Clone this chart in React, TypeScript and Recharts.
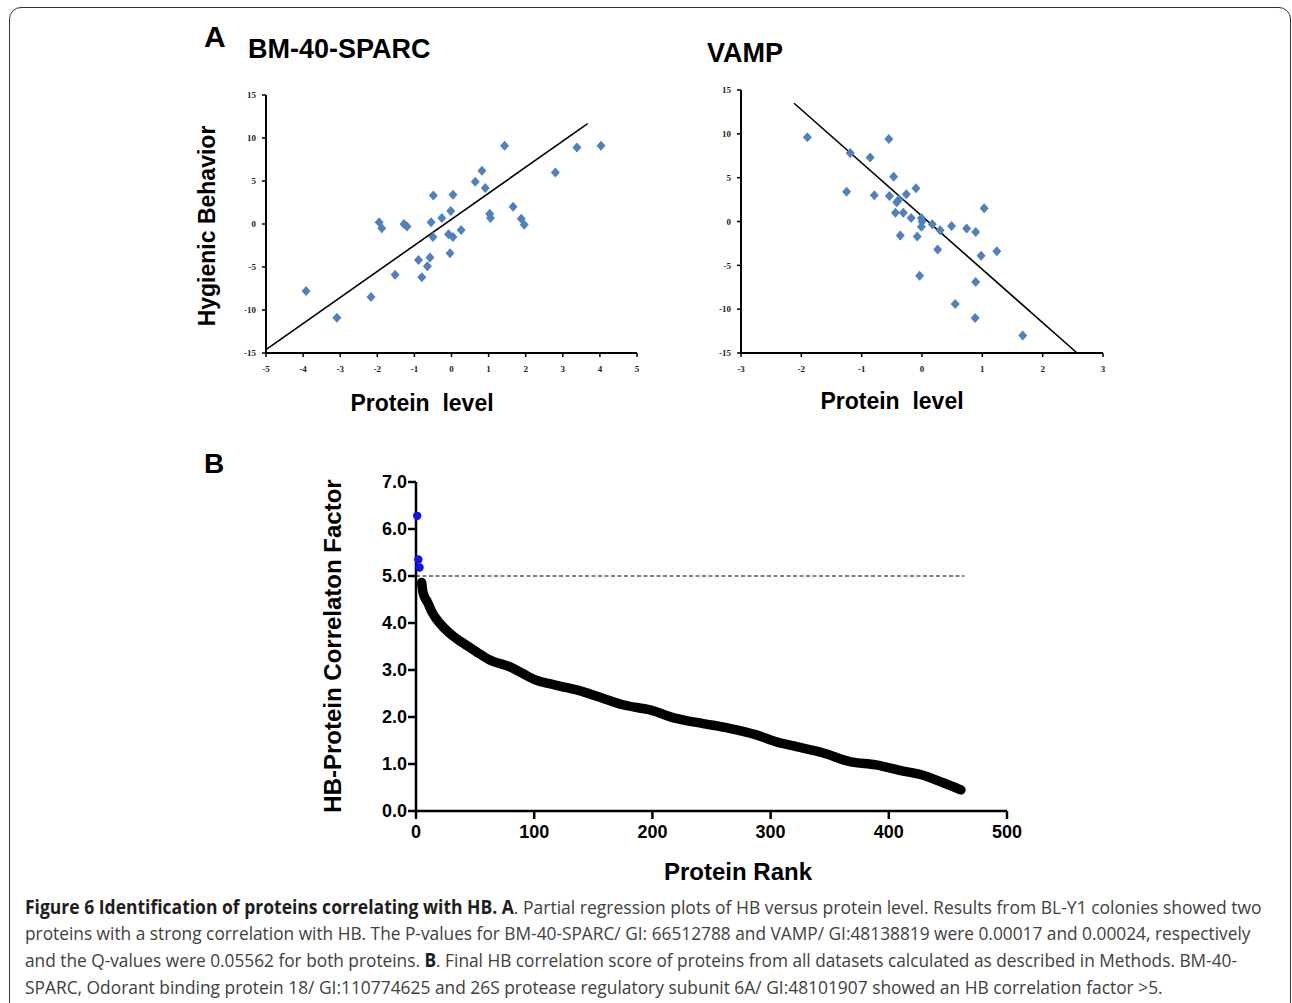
import React, { useLayoutEffect, useRef, useState } from "react";
import {
  ScatterChart,
  Scatter,
  ComposedChart,
  Line,
  XAxis,
  YAxis,
  ReferenceLine,
} from "recharts";

// Panel A, BM-40-SPARC partial regression
const sparcLevel = [
  -3.92, -3.09, -2.17, -1.95, -1.88, -1.52, -1.28, -1.2, -0.89, -0.8, -0.65,
  -0.58, -0.55, -0.49, -0.5, -0.26, -0.08, -0.02, -0.04, 0.04, 0.04, 0.26,
  0.64, 0.82, 0.91, 1.03, 1.05, 1.43, 1.66, 1.88, 1.96, 2.8, 3.38, 4.03,
];
const sparcHB = [
  -7.8, -10.9, -8.5, 0.2, -0.5, -5.9, 0.0, -0.3, -4.2, -6.2, -4.9, -3.9, 0.2,
  3.3, -1.5, 0.7, -1.2, 1.5, -3.4, 3.4, -1.5, -0.7, 4.9, 6.2, 4.2, 1.2, 0.7,
  9.1, 2.0, 0.6, -0.1, 6.0, 8.9, 9.1,
];
const sparcFit = [
  { x: -5, y: -14.6 },
  { x: 3.67, y: 11.67 },
];

// Panel A, VAMP partial regression
const vampLevel = [
  -1.9, -1.25, -1.19, -0.86, -0.79, -0.55, -0.54, -0.47, -0.42, -0.38, -0.44,
  -0.36, -0.31, -0.26, -0.18, -0.1, -0.08, -0.01, 0.0, -0.01, -0.04, 0.17, 0.3,
  0.26, 0.49, 0.55, 0.74, 0.89, 0.89, 0.88, 0.98, 1.03, 1.24, 1.67,
];
const vampHB = [
  9.6, 3.4, 7.8, 7.3, 3.0, 9.4, 2.9, 5.1, 2.2, 2.5, 1.0, -1.6, 1.0, 3.1, 0.4,
  3.8, -1.7, 0.4, 0.0, -0.6, -6.2, -0.3, -1.0, -3.2, -0.5, -9.4, -0.8, -1.2,
  -6.9, -11.0, -3.9, 1.5, -3.4, -13.0,
];
const vampFit = [
  { x: -2.12, y: 13.49 },
  { x: 2.57, y: -15.0 },
];

const hbTicks = [-15, -10, -5, 0, 5, 10, 15];
const sparcTicks = [-5, -4, -3, -2, -1, 0, 1, 2, 3, 4, 5];
const vampTicks = [-3, -2, -1, 0, 1, 2, 3];

// Panel B, ranked correlation factor
const topRank = [1, 2, 3];
const topScore = [6.28, 5.35, 5.18];
const curveRank = [
  4.8, 6, 10, 14, 20, 28, 40, 51, 62, 79, 90, 101, 118, 141, 158, 175, 198,
  220, 243, 265, 288, 305, 322, 344, 367, 389, 412, 429, 446, 461,
];
const curveScore = [
  4.86, 4.64, 4.43, 4.21, 4.0, 3.79, 3.57, 3.39, 3.22, 3.07, 2.93, 2.79, 2.68,
  2.54, 2.4, 2.26, 2.15, 1.97, 1.86, 1.76, 1.62, 1.47, 1.37, 1.24, 1.05, 0.98,
  0.85, 0.76, 0.6, 0.45,
];
const rankTicks = [0, 100, 200, 300, 400, 500];
const scoreTicks = [0, 1, 2, 3, 4, 5, 6, 7];
const cutoff = 5;

const sparcData = sparcLevel.map((x, i) => ({ x, y: sparcHB[i] }));
const vampData = vampLevel.map((x, i) => ({ x, y: vampHB[i] }));
const topData = topRank.map((rank, i) => ({ rank, score: topScore[i] }));
const curveData = curveRank.map((rank, i) => ({ rank, score: curveScore[i] }));

const ARIAL = "'Liberation Sans', Arial, sans-serif";
const SERIF = "'Liberation Serif', 'DejaVu Serif', serif";

const Diamond = (props: any) => {
  const { cx, cy } = props;
  if (cx == null || cy == null) return <g />;
  return (
    <polygon
      points={`${cx},${cy - 5} ${cx + 4.5},${cy} ${cx},${cy + 5} ${cx - 4.5},${cy}`}
      fill="#4F81BD"
    />
  );
};

const smallTick = {
  fontSize: 9,
  fontWeight: "bold",
  fill: "#222",
  fontFamily: SERIF,
};

function Regression({ data, fit, xTicks, left, top, width, height }: any) {
  const xd = [xTicks[0], xTicks[xTicks.length - 1]];
  return (
    <div style={{ position: "absolute", left, top }}>
      <ScatterChart
        width={width}
        height={height}
        margin={{ top: 10, right: 8, left: 0, bottom: 2 }}
      >
        <XAxis
          type="number"
          dataKey="x"
          domain={xd}
          ticks={xTicks}
          interval={0}
          height={30}
          tickSize={4}
          tickMargin={9}
          tick={smallTick}
          axisLine={{ stroke: "#000", strokeWidth: 2 }}
          tickLine={{ stroke: "#000", strokeWidth: 1.5 }}
        />
        <YAxis
          type="number"
          dataKey="y"
          domain={[-15, 15]}
          ticks={hbTicks}
          interval={0}
          width={40}
          tickSize={4}
          tickMargin={6}
          tick={smallTick}
          axisLine={{ stroke: "#000", strokeWidth: 2 }}
          tickLine={{ stroke: "#000", strokeWidth: 1.5 }}
        />
        <ReferenceLine
          segment={fit}
          stroke="#000"
          strokeWidth={1.6}
          ifOverflow="visible"
        />
        <Scatter data={data} shape={Diamond} isAnimationActive={false} />
      </ScatterChart>
    </div>
  );
}

function FitLine({ top, width, children }: any) {
  const ref = useRef<HTMLDivElement>(null);
  const [scale, setScale] = useState(1);
  useLayoutEffect(() => {
    if (ref.current) setScale(width / ref.current.scrollWidth);
  }, [width]);
  return (
    <div
      ref={ref}
      style={{
        position: "absolute",
        left: 25,
        top,
        whiteSpace: "nowrap",
        fontFamily: "'Open Sans', sans-serif",
        fontSize: 19,
        lineHeight: "26px",
        color: "#404040",
        transformOrigin: "0 0",
        transform: `scaleX(${scale})`,
      }}
    >
      {children}
    </div>
  );
}

const label = (
  text: string,
  left: number,
  top: number,
  size: number,
  extra: any = {}
) => (
  <div
    style={{
      position: "absolute",
      left,
      top,
      fontFamily: ARIAL,
      fontWeight: "bold",
      fontSize: size,
      lineHeight: 1,
      whiteSpace: "pre",
      color: "#000",
      ...extra,
    }}
  >
    {text}
  </div>
);

const centered = (text: string, cx: number, cy: number, size: number, rot = 0) =>
  label(text, cx, cy, size, {
    transform: `translate(-50%, -50%) rotate(${rot}deg)`,
  });

const B = ({ children }: any) => (
  <b style={{ color: "#1e1e1e", fontWeight: 700 }}>{children}</b>
);

export default function App() {
  const bTick = {
    fontSize: 18,
    fontWeight: "bold",
    fill: "#000",
    fontFamily: ARIAL,
  };
  return (
    <div
      style={{
        position: "absolute",
        left: 0,
        top: 0,
        width: 1292,
        height: 1003,
        overflow: "hidden",
        background: "#fff",
      }}
    >
      <div
        style={{
          position: "absolute",
          left: 9,
          top: 7,
          width: 1280,
          height: 1100,
          border: "1.5px solid #333",
          borderRadius: 12,
        }}
      />

      {label("A", 204, 22, 30)}
      {label("BM-40-SPARC", 248, 36, 27)}
      {label("VAMP", 707, 40, 27)}
      {centered("Hygienic Behavior", 207, 226, 23, -90)}
      {centered("Protein  level", 422, 403, 23)}
      {centered("Protein  level", 892, 401, 23)}

      <Regression
        data={sparcData}
        fit={sparcFit}
        xTicks={sparcTicks}
        left={226}
        top={85}
        width={419}
        height={300}
      />
      <Regression
        data={vampData}
        fit={vampFit}
        xTicks={vampTicks}
        left={701}
        top={80}
        width={410}
        height={305}
      />

      {label("B", 204, 450, 28)}
      {centered("HB-Protein Correlaton Factor", 333, 646, 24, -90)}
      {centered("Protein Rank", 738, 872, 24)}

      <div style={{ position: "absolute", left: 346, top: 470 }}>
        <ComposedChart
          width={676}
          height={385}
          margin={{ top: 12, right: 15, left: 0, bottom: 4 }}
        >
          <XAxis
            type="number"
            dataKey="rank"
            domain={[0, 500]}
            ticks={rankTicks}
            interval={0}
            height={40}
            tickSize={8}
            tickMargin={6}
            tick={bTick}
            axisLine={{ stroke: "#000", strokeWidth: 2.5 }}
            tickLine={{ stroke: "#000", strokeWidth: 2.5 }}
          />
          <YAxis
            type="number"
            dataKey="score"
            domain={[0, 7]}
            ticks={scoreTicks}
            interval={0}
            width={70}
            tickSize={8}
            tickMargin={1}
            tick={bTick}
            tickFormatter={(v: number) => v.toFixed(1)}
            axisLine={{ stroke: "#000", strokeWidth: 2.5 }}
            tickLine={{ stroke: "#000", strokeWidth: 2.5 }}
          />
          <ReferenceLine
            segment={[
              { x: 0, y: cutoff },
              { x: 464, y: cutoff },
            ]}
            stroke="#555"
            strokeWidth={1.6}
            strokeDasharray="4 2.5"
          />
          <Line
            data={curveData}
            dataKey="score"
            type="monotone"
            stroke="#000"
            strokeWidth={9.5}
            strokeLinecap="round"
            strokeLinejoin="round"
            dot={false}
            activeDot={false}
            isAnimationActive={false}
          />
          <Scatter
            data={topData}
            fill="#1010f5"
            shape={(p: any) => <circle cx={p.cx} cy={p.cy} r={4.2} fill="#1010f5" />}
            isAnimationActive={false}
          />
        </ComposedChart>
      </div>

      <FitLine top={894} width={1237}>
        <B>Figure 6 Identification of proteins correlating with HB. A</B>. Partial
        regression plots of HB versus protein level. Results from BL-Y1 colonies
        showed two
      </FitLine>
      <FitLine top={920} width={1225}>
        proteins with a strong correlation with HB. The P-values for BM-40-SPARC/
        GI: 66512788 and VAMP/ GI:48138819 were 0.00017 and 0.00024, respectively
      </FitLine>
      <FitLine top={947} width={1212}>
        and the Q-values were 0.05562 for both proteins. <B>B</B>. Final HB
        correlation score of proteins from all datasets calculated as described in
        Methods. BM-40-
      </FitLine>
      <FitLine top={974} width={1138}>
        SPARC, Odorant binding protein 18/ GI:110774625 and 26S protease
        regulatory subunit 6A/ GI:48101907 showed an HB correlation factor &gt;5.
      </FitLine>
    </div>
  );
}
